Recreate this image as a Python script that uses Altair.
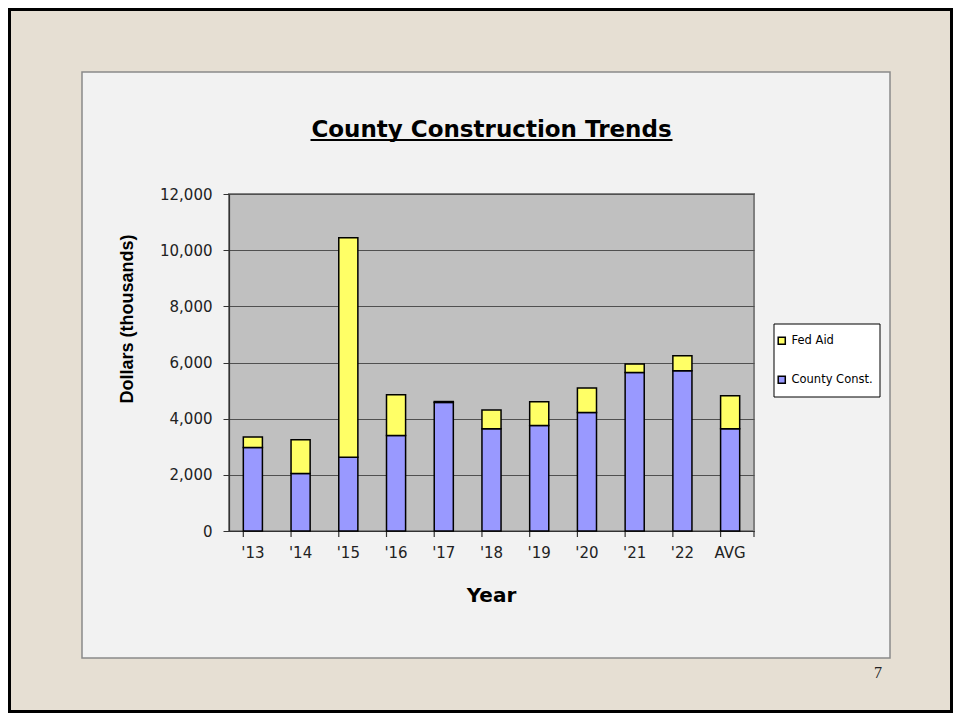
import altair as alt
import pandas as pd

# ---- data ----
years = ["'13", "'14", "'15", "'16", "'17", "'18", "'19", "'20", "'21", "'22", "AVG"]
county_const = [2970, 2050, 2630, 3400, 4580, 3640, 3760, 4220, 5640, 5710, 3640]
fed_aid = [380, 1200, 7810, 1450, 30, 670, 840, 870, 310, 530, 1180]
series_names = ["Fed Aid", "County Const."]
series_colors = ["#ffff66", "#9999ff"]
y_ticks = [0, 2000, 4000, 6000, 8000, 10000, 12000]

rows = []
for yr, c, f in zip(years, county_const, fed_aid):
    rows.append({"year": yr, "series": "County Const.", "value": c, "ord": 0})
    rows.append({"year": yr, "series": "Fed Aid", "value": f, "ord": 1})
df = pd.DataFrame(rows)
cats = pd.DataFrame({"year": years})
one = pd.DataFrame({"k": [0]})

W, H = 525, 337
PL, PT = 221, 186
TOTW, TOTH = 945, 705
PR, PB = TOTW - PL - W, TOTH - PT - H

BEIGE = "#e6dfd3"
PANEL = "#f2f2f2"

x_axis = alt.Axis(title=None, labelAngle=0, ticks=False, tickSize=0, labelPadding=14,
                  labelFont="DejaVu Sans", labelFontSize=15, labelColor="#222222",
                  domainColor="#333333", domainWidth=1.2, grid=False)
x_scale = alt.Scale(paddingInner=0.6, paddingOuter=0.3)


def rect(x1, x2, y1, y2, **kw):
    return alt.Chart(one).mark_rect(**kw).encode(
        x=alt.value(x1), x2=alt.value(x2), y=alt.value(y1), y2=alt.value(y2))


L, R, T, B = -PL, W + PR, -PT, H + PB
BX1, BX2, BY1, BY2 = -147, 661, -122, 464

strips = [
    rect(L, R, T, BY1, fill=BEIGE),
    rect(L, R, BY2, B, fill=BEIGE),
    rect(L, BX1, BY1, BY2, fill=BEIGE),
    rect(BX2, R, BY1, BY2, fill=BEIGE),
]
box = rect(BX1, BX2, BY1, BY2, filled=False, stroke="#8a8a8a", strokeWidth=1.5)
border = rect(L + 1.5, R - 1.5, T + 1.5, B - 1.5, filled=False, stroke="#000000", strokeWidth=3)
legend_box = rect(545, 651, 130, 203, fill="#ffffff", stroke="#000000", strokeWidth=1)

title = alt.Chart(one).mark_text(
    text="County Construction Trends", font="DejaVu Sans", fontWeight="bold",
    fontSize=23, color="#000000", align="center", baseline="alphabetic"
).encode(x=alt.value(W / 2), y=alt.value(-57))
underline = alt.Chart(one).mark_rule(color="#000000", strokeWidth=2).encode(
    x=alt.value(W / 2 - 181), x2=alt.value(W / 2 + 181), y=alt.value(-54))

y_title = alt.Chart(one).mark_text(
    text="Dollars (thousands)", font="Liberation Sans", fontWeight="bold",
    fontSize=18, color="#000000", angle=270, align="center", baseline="middle"
).encode(x=alt.value(-101), y=alt.value(125))

x_title = alt.Chart(one).mark_text(
    text="Year", font="DejaVu Sans", fontWeight="bold", fontSize=20,
    color="#000000", align="center", baseline="middle"
).encode(x=alt.value(W / 2), y=alt.value(402))

page_num = alt.Chart(one).mark_text(
    text="7", font="Liberation Serif", fontSize=16, color="#222222",
    align="center", baseline="middle"
).encode(x=alt.value(649), y=alt.value(479))

tick_marks = alt.Chart(cats).mark_rule(color="#333333", strokeWidth=1.2).encode(
    x=alt.X("year:N", sort=years, bandPosition=0, scale=x_scale, axis=x_axis),
    y=alt.value(H), y2=alt.value(H + 6))
end_tick = alt.Chart(one).mark_rule(color="#333333", strokeWidth=1.2).encode(
    x=alt.value(W), y=alt.value(H), y2=alt.value(H + 6))

bars = alt.Chart(df).mark_bar(stroke="#000000", strokeWidth=1.5).encode(
    x=alt.X("year:N", sort=years, scale=x_scale, axis=x_axis),
    y=alt.Y("value:Q", stack="zero",
            scale=alt.Scale(domain=[0, 12000], nice=False),
            axis=alt.Axis(title=None, values=y_ticks, format=",.0f",
                          labelFont="DejaVu Sans", labelFontSize=15, labelColor="#222222",
                          labelPadding=11, tickSize=6, tickColor="#333333",
                          domainColor="#333333", domainWidth=1.2,
                          grid=True, gridColor="#505050", gridWidth=1)),
    color=alt.Color("series:N", scale=alt.Scale(domain=series_names, range=series_colors),
                    legend=alt.Legend(title=None, orient="none", legendX=547, legendY=141,
                                      symbolType="square", symbolSize=50,
                                      symbolStrokeColor="#000000", symbolStrokeWidth=1.5,
                                      labelFont="DejaVu Sans", labelFontSize=11.5,
                                      labelColor="#000000", labelOffset=4,
                                      rowPadding=25, padding=0)),
    order=alt.Order("ord:Q"),
)

chart = alt.layer(
    *strips, box, border, legend_box, title, underline, y_title, x_title, page_num,
    tick_marks, end_tick, bars
).properties(
    width=W, height=H,
    padding={"left": PL, "top": PT, "right": PR, "bottom": PB},
    autosize=alt.AutoSizeParams(type="none"),
    background=PANEL,
).configure_view(
    fill="#c0c0c0", stroke="#808080", strokeWidth=2
)

chart.save("out.html", embed_options={"renderer": "svg", "actions": False})
